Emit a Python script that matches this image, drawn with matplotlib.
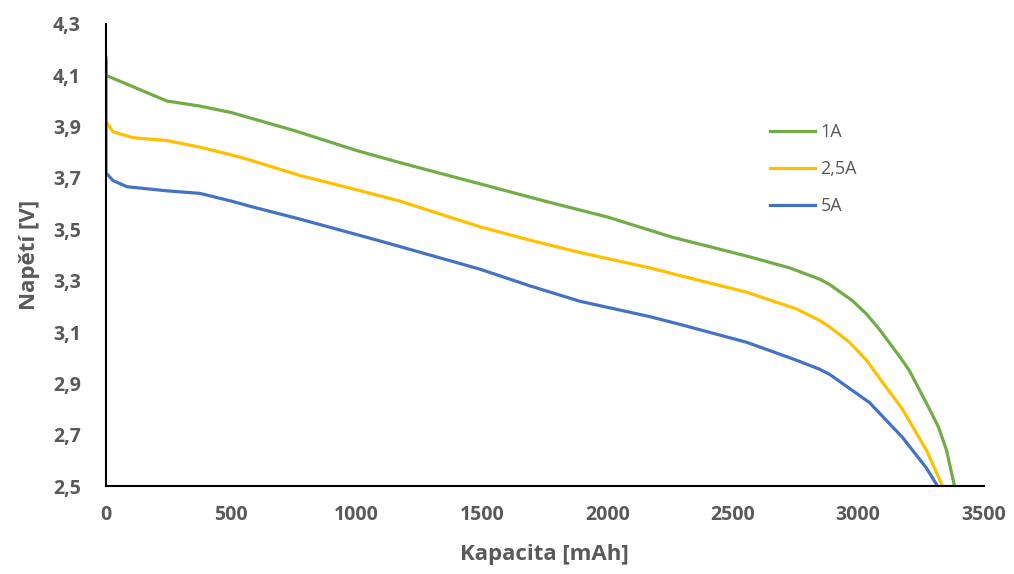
import matplotlib.pyplot as plt
from matplotlib.ticker import FuncFormatter

# 1A
cap_1a = [0, 0, 243, 375, 500, 750, 1000, 1172, 1500, 1750, 2000, 2256, 2555, 2726,
          2846, 2886, 2977, 3033, 3085, 3172, 3204, 3284, 3320, 3352, 3384]
u_1a = [4.17, 4.10, 4.00, 3.98, 3.955, 3.885, 3.807, 3.76, 3.675, 3.61, 3.548, 3.47,
        3.396, 3.35, 3.306, 3.285, 3.222, 3.17, 3.11, 2.995, 2.95, 2.80, 2.73, 2.64, 2.50]

# 2,5A
cap_25a = [0, 28, 108, 243, 375, 500, 574, 773, 1000, 1172, 1491, 1690, 1889, 2168,
           2288, 2555, 2754, 2846, 2886, 2965, 3033, 3100, 3176, 3272, 3336]
u_25a = [3.92, 3.88, 3.857, 3.846, 3.82, 3.79, 3.77, 3.71, 3.654, 3.61, 3.51, 3.458,
         3.41, 3.35, 3.32, 3.255, 3.19, 3.145, 3.12, 3.06, 2.99, 2.90, 2.80, 2.64, 2.50]

# 5A
cap_5a = [0, 0, 28, 84, 243, 375, 500, 574, 773, 1092, 1491, 1690, 1889, 2168, 2288,
          2555, 2754, 2846, 2886, 3045, 3176, 3272, 3316]
u_5a = [4.16, 3.72, 3.69, 3.666, 3.65, 3.64, 3.61, 3.59, 3.54, 3.455, 3.345, 3.28,
        3.22, 3.16, 3.13, 3.06, 2.99, 2.955, 2.935, 2.825, 2.69, 2.57, 2.50]

x_ticks = [0, 500, 1000, 1500, 2000, 2500, 3000, 3500]
y_ticks = [2.5, 2.7, 2.9, 3.1, 3.3, 3.5, 3.7, 3.9, 4.1, 4.3]

gray = '#595959'
plt.rcParams['font.family'] = ['Open Sans', 'DejaVu Sans']

fig = plt.figure(figsize=(10.14, 5.74), dpi=100)
ax = fig.add_axes([0.1045, 0.1533, 0.8655, 0.8049])

ax.plot(cap_1a, u_1a, color='#70ad47', lw=2.3, label='1A', solid_joinstyle='round')
ax.plot(cap_25a, u_25a, color='#ffc000', lw=2.3, label='2,5A', solid_joinstyle='round')
ax.plot(cap_5a, u_5a, color='#4472c4', lw=2.3, label='5A', solid_joinstyle='round')

ax.set_xlim(0, 3500)
ax.set_ylim(2.5, 4.3)
ax.set_xticks(x_ticks)
ax.set_yticks(y_ticks)
ax.yaxis.set_major_formatter(FuncFormatter(lambda v, p: ('%.1f' % v).replace('.', ',')))
ax.tick_params(length=0, labelsize=14, labelcolor=gray)
ax.tick_params(axis='x', pad=14)
ax.tick_params(axis='y', pad=18)
for lab in ax.get_xticklabels() + ax.get_yticklabels():
    lab.set_fontweight('bold')

for s in ['top', 'right']:
    ax.spines[s].set_visible(False)
for s in ['left', 'bottom']:
    ax.spines[s].set_linewidth(1.5)
    ax.spines[s].set_color('black')

ax.set_xlabel('Kapacita [mAh]', fontsize=16, fontweight='bold', color=gray)
ax.set_ylabel('Napětí [V]', fontsize=16, fontweight='bold', color=gray)
ax.xaxis.set_label_coords(0.5, -0.125)
ax.yaxis.set_label_coords(-0.075, 0.5)

leg = ax.legend(loc='upper left', bbox_to_anchor=(0.738, 0.82), frameon=False,
                fontsize=13, handlelength=2.5, handletextpad=0.3, labelspacing=1.05)
for t in leg.get_texts():
    t.set_color(gray)

fig.savefig('out.png', dpi=100)
